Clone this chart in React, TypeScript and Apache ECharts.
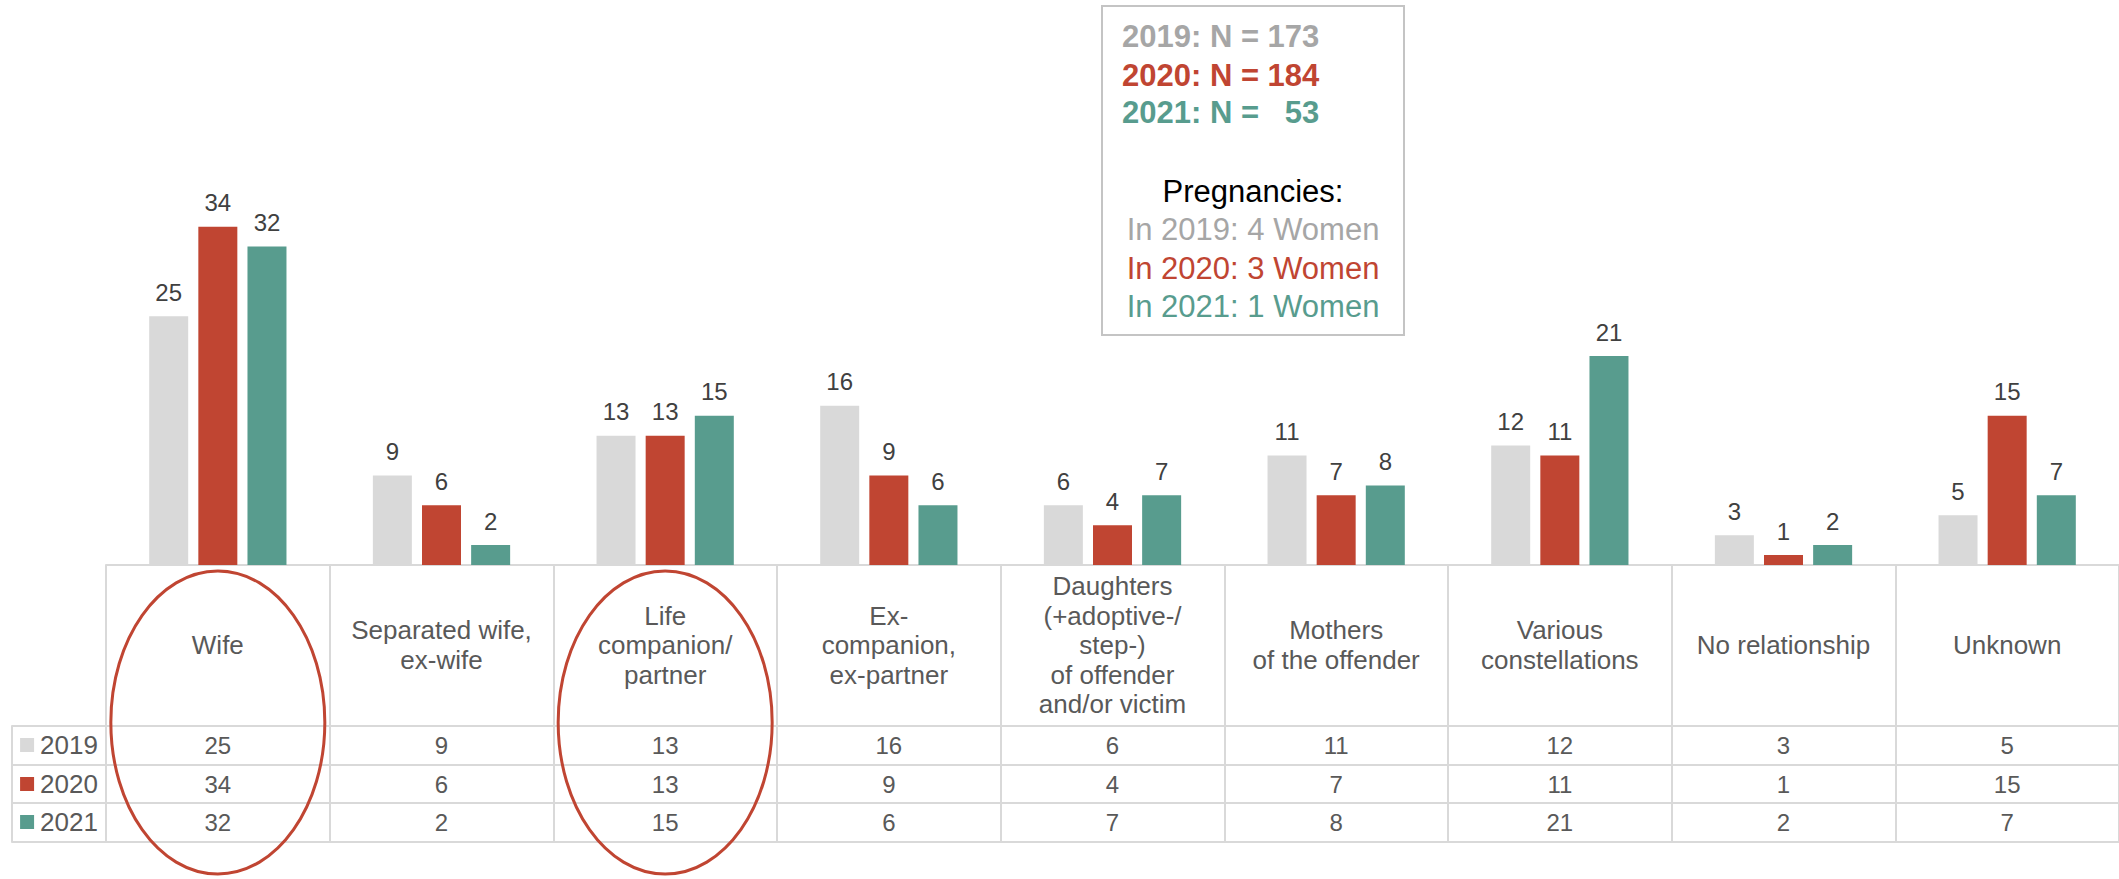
import React, { useEffect, useRef } from "react";
import * as echarts from "echarts";

const categories = [
  "Wife",
  "Separated wife,\nex-wife",
  "Life\ncompanion/\npartner",
  "Ex-\ncompanion,\nex-partner",
  "Daughters\n(+adoptive-/\nstep-)\nof offender\nand/or victim",
  "Mothers\nof the offender",
  "Various\nconstellations",
  "No relationship",
  "Unknown",
];
const years = ["2019", "2020", "2021"];
const values2019 = [25, 9, 13, 16, 6, 11, 12, 3, 5];
const values2020 = [34, 6, 13, 9, 4, 7, 11, 1, 15];
const values2021 = [32, 2, 15, 6, 7, 8, 21, 2, 7];
const sampleSizeLines = ["2019: N = 173", "2020: N = 184", "2021: N =\u00A0\u00A0\u00A053"];
const pregnancyTitle = "Pregnancies:";
const pregnancyLines = ["In 2019: 4 Women", "In 2020: 3 Women", "In 2021: 1 Women"];
const highlighted = ["Wife", "Life\ncompanion/\npartner"];

const COLORS = ["#d9d9d9", "#c04532", "#589c8e"];
const TEXT_COLORS = ["#a6a6a6", "#c04532", "#589c8e"];
const FONT = '"Liberation Sans", Arial, sans-serif';
const GRID_LINE = "#d9d9d9";
const TABLE_TEXT = "#595959";

const allValues = [values2019, values2020, values2021];

export default function App() {
  const ref = useRef<HTMLDivElement>(null);

  useEffect(() => {
    if (!ref.current) return;
    const chart = echarts.init(ref.current, null, { renderer: "svg" });

    const line = { show: true, onZero: false, lineStyle: { color: GRID_LINE, width: 2 } };
    const rowOffsets = [161, 200, 238, 277];

    const xAxes: any[] = [
      {
        type: "category",
        gridIndex: 0,
        position: "bottom",
        data: categories,
        axisLine: line,
        axisTick: { show: true, length: 277, lineStyle: { color: GRID_LINE, width: 2 } },
        axisLabel: {
          interval: 0,
          margin: 80,
          verticalAlign: "middle",
          fontSize: 26,
          lineHeight: 29.5,
          color: TABLE_TEXT,
          fontFamily: FONT,
        },
      },
    ];
    // table rows (values per year) drawn as extra category axes
    allValues.forEach((vals, k) => {
      xAxes.push({
        type: "category",
        gridIndex: 0,
        position: "bottom",
        offset: rowOffsets[k],
        data: categories,
        axisLine: line,
        axisTick: { show: false },
        axisLabel: {
          interval: 0,
          margin: 19,
          verticalAlign: "middle",
          fontSize: 24,
          color: TABLE_TEXT,
          fontFamily: FONT,
          formatter: (_v: string, i: number) => String(vals[i]),
        },
      });
    });
    xAxes.push({
      type: "category",
      gridIndex: 0,
      position: "bottom",
      offset: rowOffsets[3],
      data: categories,
      axisLine: line,
      axisTick: { show: false },
      axisLabel: { show: false },
    });
    // legend column (series keys) drawn as category axes of a narrow grid
    rowOffsets.forEach((off, k) => {
      const year = years[k];
      xAxes.push({
        type: "category",
        gridIndex: 1,
        position: "bottom",
        offset: off,
        data: [year ?? ""],
        axisLine: line,
        axisTick:
          k === 0
            ? { show: true, length: 116, lineStyle: { color: GRID_LINE, width: 2 } }
            : { show: false },
        axisLabel: year
          ? {
              interval: 0,
              margin: 19,
              verticalAlign: "middle",
              formatter: (v: string) => `{sq|}{t|${v}}`,
              rich: {
                sq: { width: 14, height: 14, backgroundColor: COLORS[k] },
                t: {
                  fontSize: 26,
                  color: TABLE_TEXT,
                  fontFamily: FONT,
                  padding: [0, 0, 0, 6],
                },
              },
            }
          : { show: false },
      });
    });

    const option: any = {
      animation: false,
      backgroundColor: "#ffffff",
      textStyle: { fontFamily: FONT },
      grid: [
        { left: 106, right: 0, top: 167, bottom: 314 },
        { left: 12, width: 94, top: 167, bottom: 314 },
      ],
      xAxis: xAxes,
      yAxis: [
        { type: "value", gridIndex: 0, min: 0, max: 40, show: false },
        { type: "value", gridIndex: 1, min: 0, max: 40, show: false },
      ],
      series: years.map((y, k) => ({
        name: y,
        type: "bar",
        xAxisIndex: 0,
        yAxisIndex: 0,
        data: allValues[k],
        barWidth: 39,
        barGap: "26%",
        itemStyle: { color: COLORS[k] },
        label: {
          show: true,
          position: "top",
          distance: 12,
          fontSize: 24,
          color: "#404040",
          fontFamily: FONT,
        },
      })),
    };
    chart.setOption(option);

    const ellipseX = highlighted.map((c) => chart.convertToPixel({ xAxisIndex: 0 }, c) as number);

    const boxCx = 1253;
    const elements: any[] = [
      {
        type: "rect",
        shape: { x: 1102, y: 6, width: 302, height: 329 },
        style: { fill: "#ffffff", stroke: "#c4c4c4", lineWidth: 2 },
        z: 50,
      },
    ];
    const nY = [36, 75, 112.5];
    sampleSizeLines.forEach((t, k) => {
      elements.push({
        type: "text",
        x: 1122,
        y: nY[k],
        z: 51,
        style: {
          text: t,
          fill: TEXT_COLORS[k],
          fontSize: 31,
          fontWeight: "bold",
          fontFamily: FONT,
          align: "left",
          textAlign: "left",
          verticalAlign: "middle",
          textVerticalAlign: "middle",
        },
      });
    });
    elements.push({
      type: "text",
      x: boxCx,
      y: 191,
      z: 51,
      style: {
        text: pregnancyTitle,
        fill: "#000000",
        fontSize: 31,
        fontFamily: FONT,
        align: "center",
        textAlign: "center",
        verticalAlign: "middle",
        textVerticalAlign: "middle",
      },
    });
    const pY = [229.5, 268, 306];
    pregnancyLines.forEach((t, k) => {
      elements.push({
        type: "text",
        x: boxCx,
        y: pY[k],
        z: 51,
        style: {
          text: t,
          fill: TEXT_COLORS[k],
          fontSize: 31,
          fontFamily: FONT,
          align: "center",
          textAlign: "center",
          verticalAlign: "middle",
          textVerticalAlign: "middle",
        },
      });
    });
    ellipseX.forEach((cx) => {
      elements.push({
        type: "ellipse",
        z: 100,
        shape: { cx, cy: 722.5, rx: 107, ry: 151.5 },
        style: { fill: "none", stroke: "#c04532", lineWidth: 3 },
      });
    });

    chart.setOption({ graphic: [{ elements }] });

    return () => chart.dispose();
  }, []);

  return (
    <div
      ref={ref}
      style={{ position: "absolute", left: 0, top: 0, width: 2119, height: 879 }}
    />
  );
}
